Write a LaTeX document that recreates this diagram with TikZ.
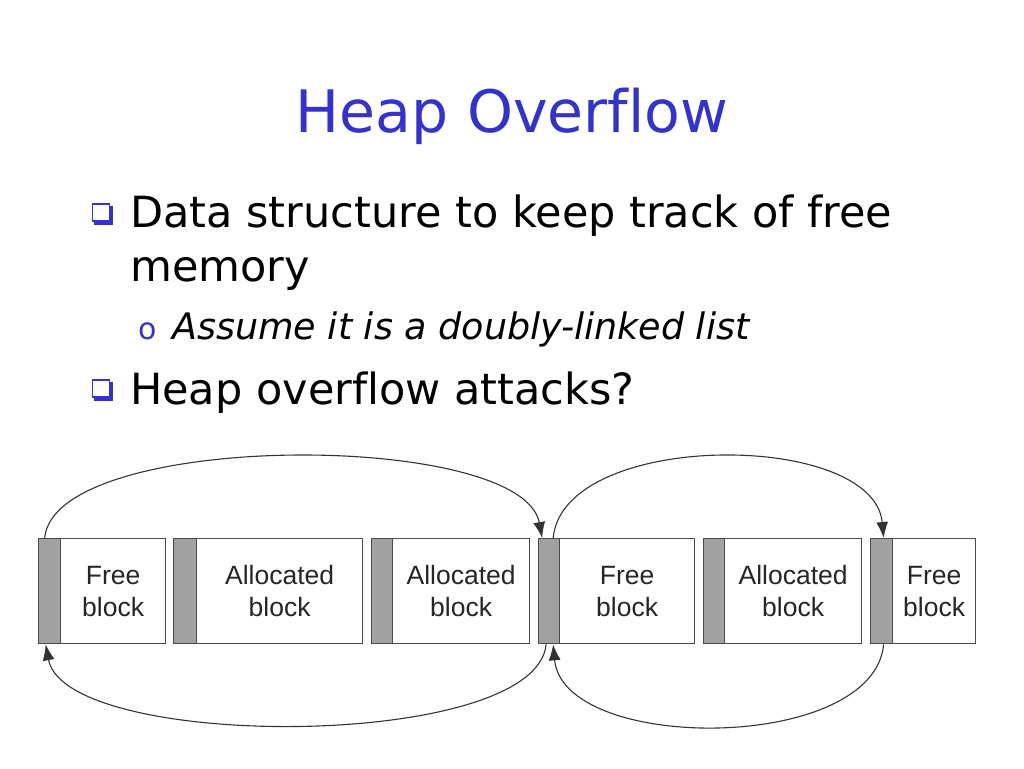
\documentclass[tikz,border=0pt]{standalone}
\usepackage{fontspec}
\setmainfont[Ligatures=NoCommon]{DejaVu Sans}
\newfontfamily\diagfont{Liberation Sans}
\usetikzlibrary{arrows.meta}
\definecolor{titleblue}{HTML}{3333CC}
\definecolor{hdrgray}{HTML}{A0A0A0}
\definecolor{edgegray}{HTML}{4A4A4A}
\begin{document}
\begin{tikzpicture}[x=1pt,y=-1pt,
  hdr/.style={draw=edgegray, fill=hdrgray, line width=1.3pt, minimum height=105pt, inner sep=0pt, anchor=north west},
  body/.style={draw=edgegray, line width=1.3pt, minimum height=105pt, inner sep=0pt, anchor=north west,
    font=\diagfont\fontsize{26.5}{32}\selectfont, align=center, text=black!85},
  link/.style={line width=1.1pt, black!80, -{Latex[length=16pt,width=12pt]}},
  bodytext/.style={anchor=base west, inner sep=0pt, font=\fontsize{43}{50}\selectfont},
  subtext/.style={anchor=base west, inner sep=0pt, font=\itshape\fontsize{36.5}{42}\selectfont},
  sqbullet/.style={draw=titleblue, fill=white, line width=1.2pt, minimum size=17pt, inner sep=0pt}
]
\path[use as bounding box, fill=white] (0,0) rectangle (1024,768);

% title
\node[text=titleblue, font=\fontsize{58.5}{68}\selectfont, anchor=base, inner sep=0pt] (title) at (512,132) {Heap Overflow};

% bullets
\fill[titleblue] (94,206) rectangle (113,225);
\node[sqbullet] (b1) at (101,212.5) {};
\node[bodytext] (t1) at (130,227) {Data structure to keep track of free};
\node[bodytext] (t2) at (130,281) {memory};
\node[anchor=base west, inner sep=0pt, text=titleblue, font=\fontsize{30}{36}\selectfont] (o1) at (138,339) {o};
\node[subtext] (t3) at (172,339) {Assume it is a doubly-linked list};
\fill[titleblue] (94,382) rectangle (113,401);
\node[sqbullet] (b2) at (101,388.5) {};
\node[bodytext] (t4) at (130,404) {Heap overflow attacks?};

% blocks
\node[hdr, minimum width=22pt] (h1) at (38,538) {};
\node[body, minimum width=105pt] (k1) at (60,538) {Free\\block};
\node[hdr, minimum width=23pt] (h2) at (173,538) {};
\node[body, minimum width=166pt] (k2) at (196,538) {Allocated\\block};
\node[hdr, minimum width=21pt] (h3) at (371,538) {};
\node[body, minimum width=137pt] (k3) at (392,538) {Allocated\\block};
\node[hdr, minimum width=21pt] (h4) at (538,538) {};
\node[body, minimum width=135pt] (k4) at (559,538) {Free\\block};
\node[hdr, minimum width=21pt] (h5) at (703,538) {};
\node[body, minimum width=137pt] (k5) at (724,538) {Allocated\\block};
\node[hdr, minimum width=22pt] (h6) at (870,538) {};
\node[body, minimum width=83pt] (k6) at (892,538) {Free\\block};

% links
\draw[link] ([xshift=-5pt]h1.north) .. controls +(10,-108) and +(-20,-108) .. ([xshift=-7pt]h4.north);
\draw[link] ([xshift=4pt]h4.north) .. controls +(10,-108) and +(-10,-108) .. ([xshift=2pt]h6.north);
\draw[link] ([xshift=-3pt]h4.south) .. controls +(-10,107) and +(20,107) .. ([xshift=-4pt]h1.south);
\draw[link] ([xshift=2pt]h6.south) .. controls +(-10,109) and +(10,109) .. ([xshift=4pt]h4.south);
\end{tikzpicture}
\end{document}
